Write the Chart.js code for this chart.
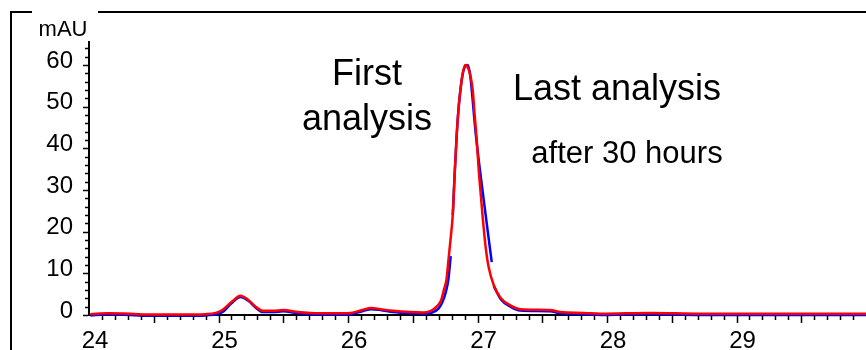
<!DOCTYPE html>
<html><head><meta charset="utf-8">
<script src="https://cdn.jsdelivr.net/npm/chart.js@4/dist/chart.umd.min.js"></script>
<style>html,body{margin:0;padding:0;background:#fff;} #wrap{width:866px;height:350px;position:relative;}</style>
</head><body><div id="wrap"><canvas id="c" width="866" height="350"></canvas></div>
<script>
// Last analysis (red) – retention time (min) and absorbance (mAU)
const redTime  = [24.01,24.15,24.32,24.48,24.71,24.90,24.98,25.03,25.10,25.17,25.23,25.29,25.34,25.42,25.50,25.60,25.71,25.87,26.02,26.11,26.18,26.25,26.35,26.48,26.58,26.64,26.69,26.72,26.74,26.76,26.778,26.793,26.809,26.824,26.840,26.855,26.870,26.886,26.905,26.924,26.948,26.963,26.978,26.994,27.009,27.025,27.040,27.063,27.086,27.125,27.179,27.26,27.33,27.56,27.64,27.82,27.95,28.34,28.72,29.34,30.00];
const redValue = [0.2,0.4,0.3,0.1,0.1,0.2,0.5,1.2,3.1,4.6,3.6,1.9,1.0,1.0,1.2,0.8,0.5,0.4,0.5,1.2,1.7,1.4,1.0,0.7,0.6,1.0,2.2,3.6,6.0,8.4,13.9,18.5,24.0,34.0,43.5,50.0,54.5,58.0,60.0,59.5,57.0,54.0,48.0,42.0,35.0,29.0,23.5,16.3,11.5,7.2,4.1,2.2,1.4,1.2,0.7,0.5,0.3,0.5,0.3,0.3,0.3];
// First analysis (blue)
const blueTime  = [24.01,24.15,24.32,24.48,24.71,24.90,24.99,25.04,25.10,25.17,25.23,25.29,25.34,25.42,25.50,25.60,25.71,25.87,26.02,26.11,26.18,26.25,26.35,26.48,26.58,26.65,26.70,26.73,26.755,26.775,26.793,26.80,26.809,26.824,26.840,26.855,26.870,26.886,26.900,26.924,26.940,26.948,26.986,27.048,27.11,27.118,27.125,27.179,27.26,27.33,27.56,27.64,27.82,27.95,28.34,28.72,29.34,30.00];
const blueValue = [-0.1,0.1,0.0,-0.2,-0.2,-0.1,0.2,0.9,2.8,4.3,3.4,1.7,0.7,0.7,0.9,0.5,0.2,0.1,0.2,0.9,1.4,1.2,0.7,0.4,0.3,0.6,1.6,3.2,5.5,8.5,14.1,null,24.0,34.0,43.5,50.0,54.5,57.8,59.4,60.0,58.3,56.4,43.6,27.6,12.7,null,7.0,3.8,1.9,1.1,0.9,0.4,0.2,0.0,0.2,0.0,0.0,0.0];
const xTickValues = [24,25,26,27,28,29];
const yTickValues = [0,10,20,30,40,50,60];
const yUnitLabel = 'mAU';
const noteFirst = ['First','analysis'];
const noteLast = 'Last analysis';
const noteLastSub = 'after 30 hours';

const FONT = '"Liberation Sans", Arial, Helvetica, sans-serif';

const decor = {
  id: 'decor',
  beforeDraw(chart) {
    const ctx = chart.ctx;
    ctx.save();
    ctx.fillStyle = '#fff';
    ctx.fillRect(0, 0, chart.width, chart.height);
    ctx.strokeStyle = '#000';
    ctx.lineWidth = 2;
    ctx.beginPath();
    ctx.moveTo(11, 350); ctx.lineTo(11, 12); ctx.lineTo(32, 12);
    ctx.moveTo(98, 12); ctx.lineTo(866, 12);
    ctx.stroke();
    ctx.restore();
  },
  afterDraw(chart) {
    const ctx = chart.ctx;
    const xs = chart.scales.x, ys = chart.scales.y;
    const ca = chart.chartArea;
    ctx.save();
    ctx.strokeStyle = '#000';
    ctx.lineWidth = 1.5;
    ctx.beginPath();
    for (let i = 1; i < 60; i++) {
      const t = 24 + i / 10;
      const px = Math.round(xs.getPixelForValue(t)) + 0.5;
      const len = (i % 5 === 0) ? 7 : 4;
      ctx.moveTo(px, ca.bottom + 1); ctx.lineTo(px, ca.bottom + 1 + len);
    }
    for (let v = 0; v <= 64; v += 2) {
      const py = Math.round(ys.getPixelForValue(v)) + 0.5;
      const len = (v % 10 === 0) ? 5 : 3;
      ctx.moveTo(ca.left - 1, py); ctx.lineTo(ca.left - 1 - len, py);
    }
    ctx.stroke();

    ctx.fillStyle = '#000';
    ctx.textBaseline = 'alphabetic';
    ctx.textAlign = 'center';
    ctx.font = '22px ' + FONT;
    ctx.fillText(yUnitLabel, 63, 36);
    ctx.font = '36px ' + FONT;
    ctx.fillText(noteFirst[0], 367, 85);
    ctx.fillText(noteFirst[1], 367, 130);
    ctx.fillText(noteLast, 617, 100);
    ctx.font = '31px ' + FONT;
    ctx.fillText(noteLastSub, 627, 163);
    ctx.restore();
  }
};

new Chart(document.getElementById('c'), {
  type: 'line',
  data: {
    datasets: [
      {
        label: 'Last analysis',
        data: redTime.map((t, i) => ({x: t, y: redValue[i]})),
        borderColor: '#ff0000',
        borderWidth: 2.5,
        pointRadius: 0,
        cubicInterpolationMode: 'monotone',
        fill: false,
        clip: false,
        order: 0
      },
      {
        label: 'First analysis',
        data: blueTime.map((t, i) => ({x: t, y: blueValue[i]})),
        borderColor: '#0000ff',
        borderWidth: 2.5,
        pointRadius: 0,
        cubicInterpolationMode: 'monotone',
        spanGaps: false,
        fill: false,
        clip: false,
        order: 1
      }
    ]
  },
  options: {
    responsive: false,
    animation: false,
    devicePixelRatio: 1,
    layout: {padding: {top: 42, left: 0, right: 0, bottom: 0}},
    plugins: {legend: {display: false}, tooltip: {enabled: false}},
    scales: {
      x: {
        type: 'linear',
        min: 24, max: 30,
        afterFit(s) { s.height = 35; },
        afterBuildTicks(s) { s.ticks = xTickValues.map(v => ({value: v})); },
        grid: {display: false, drawTicks: false},
        border: {display: true, color: '#000', width: 2},
        ticks: {
          color: '#000',
          font: {family: FONT, size: 24},
          padding: 12,
          labelOffset: 6,
          maxRotation: 0,
          autoSkip: false,
          callback: v => String(v)
        }
      },
      y: {
        type: 'linear',
        min: 0, max: 65.5,
        afterFit(s) { s.width = 89; },
        afterBuildTicks(s) { s.ticks = yTickValues.map(v => ({value: v})); },
        grid: {display: false, drawTicks: false},
        border: {display: true, color: '#000', width: 2},
        ticks: {
          color: '#000',
          font: {family: FONT, size: 24},
          padding: 16,
          labelOffset: -4,
          autoSkip: false,
          callback: v => String(v)
        }
      }
    }
  },
  plugins: [decor]
});
</script>
</body></html>
